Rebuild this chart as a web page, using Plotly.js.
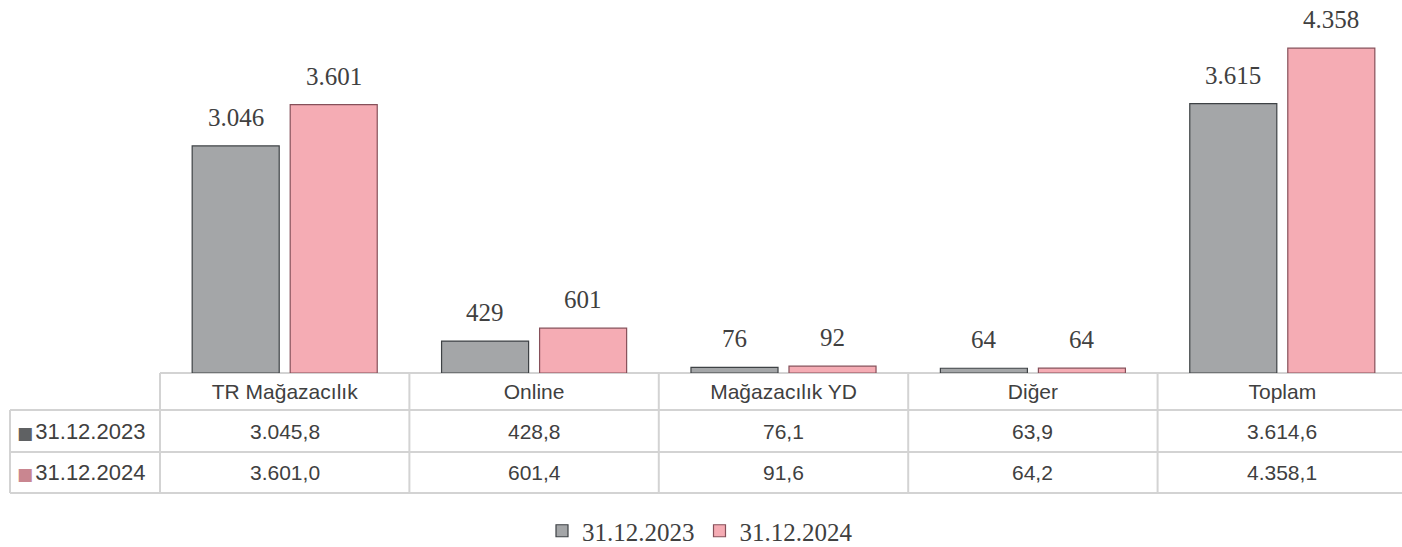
<!DOCTYPE html>
<html><head><meta charset="utf-8">
<script src="https://cdn.plot.ly/plotly-3.0.1.min.js"></script>
<style>html,body{margin:0;padding:0;overflow:hidden;background:#fff}</style>
</head><body><div id="chart"></div>
<script>
// ---- data ----
const categories = ['TR Mağazacılık', 'Online', 'Mağazacılık YD', 'Diğer', 'Toplam'];
const seriesNames = ['31.12.2023', '31.12.2024'];
const values2023 = [3045.8, 428.8, 76.1, 63.9, 3614.6];
const values2024 = [3601.0, 601.4, 91.6, 64.2, 4358.1];

// ---- styles / geometry ----
const W = 1407, H = 547, ML = 160, MR = 0, MT = 10, MB = 174;
const plotW = W - ML - MR, plotH = H - MT - MB;
const bottomPx = H - MB;
const catW = plotW / categories.length;
const BARGAP = 0.214, GROUPGAP = 0.112;
const slotW = catW * (1 - BARGAP) / 2;
const faceColors = ['#a4a6a8', '#f5acb4'];
const edgeColors = ['#3e4245', '#86505a'];
const markColors = ['#5f6163', '#c98690'];
const textColor = '#404040';
const gridColor = '#d3d3d3';
const serif = 'Liberation Serif, Times New Roman, serif';
const sans = 'Liberation Sans, Arial, sans-serif';

const px = v => (v - ML) / plotW;          // page x -> paper x
const py = v => (bottomPx - v) / plotH;    // page y -> paper y

function fmtInt(v) {
  return Math.round(v).toString().replace(/\B(?=(\d{3})+(?!\d))/g, '.');
}
function fmtDec(v) {
  const parts = v.toFixed(1).split('.');
  return parts[0].replace(/\B(?=(\d{3})+(?!\d))/g, '.') + ',' + parts[1];
}

const seriesValues = [values2023, values2024];
const traces = seriesValues.map((vals, s) => ({
  type: 'bar',
  name: seriesNames[s],
  x: categories,
  y: vals,
  marker: { color: faceColors[s], line: { color: edgeColors[s], width: 1.2 } },
  hoverinfo: 'x+y+name'
}));

const annotations = [];
// data labels above bars
seriesValues.forEach((vals, s) => {
  vals.forEach((v, i) => {
    annotations.push({
      x: categories[i], xref: 'x', y: v, yref: 'y',
      text: fmtInt(v), showarrow: false,
      xanchor: 'center', yanchor: 'bottom',
      xshift: (s === 0 ? -1 : 1) * slotW / 2, yshift: 13,
      font: { family: serif, size: 25, color: textColor }
    });
  });
});

// table
const rowCentersPx = [431, 472];
seriesValues.forEach((vals, s) => {
  vals.forEach((v, i) => {
    annotations.push({
      x: categories[i], xref: 'x', y: py(rowCentersPx[s]), yref: 'paper',
      text: fmtDec(v), showarrow: false, xanchor: 'center', yanchor: 'middle',
      font: { family: sans, size: 21, color: textColor }
    });
  });
  annotations.push({
    x: px(15), xref: 'paper', y: py(rowCentersPx[s]), yref: 'paper',
    text: '<span style="color:' + markColors[s] + ';font-family:DejaVu Sans;font-size:17px">■</span><span style="font-size:8px"> </span>' + seriesNames[s],
    showarrow: false, xanchor: 'left', yanchor: 'middle',
    font: { family: sans, size: 22, color: textColor }
  });
});

const shapes = [];
const line = { color: gridColor, width: 2 };
shapes.push({ type: 'line', xref: 'paper', yref: 'paper', x0: 0, x1: 1.01, y0: 0, y1: 0, line, layer: 'below' });
[410, 452, 493].forEach(yv => shapes.push({ type: 'line', xref: 'paper', yref: 'paper', x0: px(10), x1: 1.01, y0: py(yv), y1: py(yv), line, layer: 'below' }));
for (let k = 0; k <= categories.length; k++) {
  shapes.push({ type: 'line', xref: 'paper', yref: 'paper', x0: k / categories.length, x1: k / categories.length, y0: 0, y1: py(493), line, layer: 'below' });
}
shapes.push({ type: 'line', xref: 'paper', yref: 'paper', x0: px(10), x1: px(10), y0: py(410), y1: py(493), line, layer: 'below' });

const layout = {
  width: W, height: H,
  margin: { l: ML, r: MR, t: MT, b: MB, pad: 0, autoexpand: false },
  paper_bgcolor: '#ffffff', plot_bgcolor: '#ffffff',
  barmode: 'group', bargap: BARGAP, bargroupgap: GROUPGAP,
  separators: ',.',
  xaxis: {
    type: 'category', showgrid: false, zeroline: false, showline: false, ticks: '',
    tickfont: { family: sans, size: 21, color: textColor }, ticklabelstandoff: 4,
    fixedrange: true, automargin: false
  },
  yaxis: { range: [0, 4870], visible: false, fixedrange: true, automargin: false },
  showlegend: true,
  legend: {
    orientation: 'h', x: px(700), xanchor: 'center', y: py(531), yanchor: 'middle',
    font: { family: serif, size: 25, color: textColor }, bgcolor: 'rgba(0,0,0,0)'
  },
  annotations, shapes
};

Plotly.newPlot('chart', traces, layout, { displayModeBar: false, staticPlot: true });
</script>
</body></html>
